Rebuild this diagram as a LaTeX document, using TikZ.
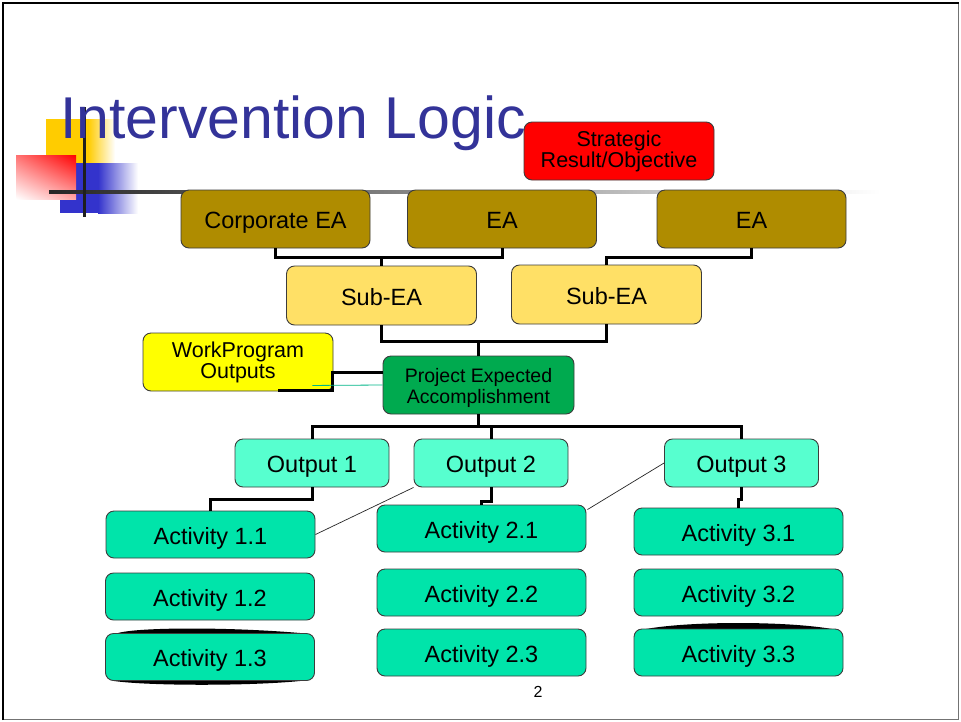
\documentclass[tikz,border=0pt]{standalone}
\usepackage{fontspec}
\setmainfont{Liberation Sans}
\usetikzlibrary{calc,shadings}

\definecolor{titleblue}{RGB}{51,51,153}
\definecolor{eabrown}{RGB}{175,140,0}
\definecolor{subea}{RGB}{255,224,102}
\definecolor{wpyellow}{RGB}{255,255,0}
\definecolor{peagreen}{RGB}{0,170,79}
\definecolor{outcyan}{RGB}{87,255,207}
\definecolor{actgreen}{RGB}{0,228,170}
\definecolor{decoyellow}{RGB}{255,204,0}
\definecolor{decoblue}{RGB}{51,51,204}
\definecolor{edgegray}{RGB}{60,60,60}

\tikzset{
  box/.style={draw=edgegray, line width=0.9, rounded corners=8, align=center,
    inner sep=0pt, text=black},
  bigtxt/.style={font=\fontsize{23.5}{26}\selectfont, text height=19, text depth=0},
  midtxt/.style={font=\fontsize{21.5}{21}\selectfont},
  smalltxt/.style={font=\fontsize{19.5}{21}\selectfont},
  eabox/.style={box, bigtxt, fill=eabrown, minimum width=189, minimum height=58},
  subbox/.style={box, bigtxt, fill=subea, minimum width=190, minimum height=59},
  outbox/.style={box, bigtxt, fill=outcyan, minimum width=154, minimum height=48},
  actbox/.style={box, bigtxt, fill=actgreen, minimum width=209, minimum height=47},
  conn/.style={draw=black, line width=3},
  thinlink/.style={draw=black!85, line width=0.7},
}

\begin{document}
\begin{tikzpicture}[x=1pt, y=-1pt]
\useasboundingbox (0,0) rectangle (961,721);
\fill[white] (0,0) rectangle (961,721);

% slide frame
\draw[black!55, line width=1] (2,719.5) -- (958.5,719.5) -- (958.5,3);
\draw[black, line width=2] (3,720) -- (3,3) -- (958.5,3);

% corner ornament
\fill[decoyellow] (46,119) rectangle (88,163);
\shade[left color=decoyellow, right color=white] (88,119) rectangle (115,163);
\fill[decoblue] (60,163) rectangle (98,213);
\shade[left color=decoblue, right color=white] (98,163) rectangle (138,213);
\shade[upper left=red!55, upper right=red, lower left=white, lower right=red!35]
  (16,155) rectangle (76,199);
\shade[left color=black!85, right color=white] (49,190.5) rectangle (880,193.5);
\fill[black!88] (82.5,107) rectangle (85.5,217);

% title
\node[anchor=base west, inner sep=0pt, text=titleblue,
  font=\fontsize{59}{60}\selectfont] (title) at (60,138) {Intervention Logic};

% top level
\node[box, midtxt, fill=red, minimum width=190, minimum height=58] (sro)
  at (619,151) {\rule{0pt}{17pt}Strategic\\Result/Objective};
\node[eabox] (cea) at (275.5,219) {Corporate EA};
\node[eabox] (ea1) at (502,219) {EA};
\node[eabox] (ea2) at (751.5,219) {EA};

\node[subbox] (sub1) at (381.5,295.5) {Sub-EA};
\node[subbox] (sub2) at (606.5,294.5) {Sub-EA};

\node[box, midtxt, fill=wpyellow, minimum width=190, minimum height=58] (wp)
  at (238,362) {WorkProgram\\Outputs};
\node[box, smalltxt, fill=peagreen, minimum width=191, minimum height=58] (pea)
  at (478.5,385) {\rule{0pt}{20pt}Project Expected\\Accomplishment};

\node[outbox] (out1) at (312,463) {Output 1};
\node[outbox] (out2) at (491,463) {Output 2};
\node[outbox] (out3) at (741.5,463) {Output 3};

% shadow arcs on the bottom activities
\fill[black] (118,633) .. controls (140,627) and (230,627) .. (300,633) -- cycle;
\fill[black] (114,681) .. controls (150,686) and (250,686) .. (300,681) -- cycle;
\fill[black] (646,629) .. controls (690,621) and (786,621) .. (832,629) -- cycle;

\node[actbox] (act11) at (210.5,534.5) {Activity 1.1};
\node[actbox] (act12) at (210,596.5) {Activity 1.2};
\node[actbox] (act13) at (210,657) {Activity 1.3};
\node[actbox] (act21) at (481.5,528.5) {Activity 2.1};
\node[actbox] (act22) at (481.5,592.5) {Activity 2.2};
\node[actbox] (act23) at (481.5,652.5) {Activity 2.3};
\node[actbox] (act31) at (738.5,531.5) {Activity 3.1};
\node[actbox] (act32) at (738.5,592.5) {Activity 3.2};
\node[actbox] (act33) at (738.5,652.5) {Activity 3.3};

% tree connectors
\draw[conn] (cea.south) -- ++(0,9) -| (ea1.south);
\draw[conn] (sub1.north) -- ++(0,-9);
\draw[conn] (ea2.south) -- ++(0,9) -| (sub2.north);
\draw[conn] (sub1.south) -- ++(0,16) -| (sub2.south);
\draw[conn] (pea.north) -- ++(0,-15);
\draw[conn] (pea.south) -- ++(0,13);
\draw[conn] (out1.north) -- ++(0,-12) -| (out3.north);
\draw[conn] (out2.north) -- ++(0,-12);
\draw[conn] (out1.south) -- ++(0,12) -| (act11.north);
\draw[conn] (out2.south) -- ++(0,14) -| (act21.north);
\draw[conn] (out3.south) -- ++(0,12) -| (act31.north);
\draw[conn] ($(pea.west)+(0,-13)$) -| ($(wp.south east)+(-1,-1)$) -- ++(-54,0);
\draw[actgreen!80!black, line width=0.8] ($(wp.south east)+(-21,-6)$) -- ($(pea.west)+(0,0)$);

% cross links
\draw[thinlink] (out2.south west) -- (act11.east);
\draw[thinlink] (out3.west) -- ($(act21.north east)+(1,5)$);

% page number
\node[font=\fontsize{16}{18}\selectfont] (pagenum) at (538,692) {2};
\end{tikzpicture}
\end{document}
